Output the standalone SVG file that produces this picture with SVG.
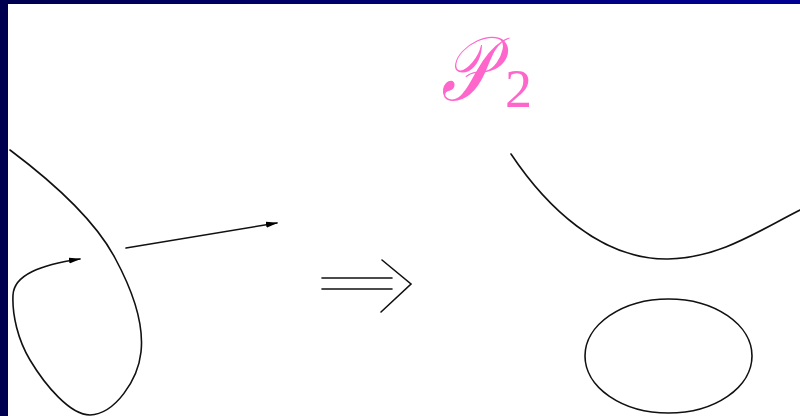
<svg xmlns="http://www.w3.org/2000/svg" width="800" height="416" viewBox="0 0 800 416">
<defs>
<linearGradient id="topg" x1="0" y1="0" x2="1" y2="0">
<stop offset="0" stop-color="#000050"/>
<stop offset="1" stop-color="#000094"/>
</linearGradient>
<marker id="ah" markerWidth="12" markerHeight="8" refX="11" refY="4" orient="auto" markerUnits="userSpaceOnUse">
<path d="M0,1 L12,4 L0,7 Z" fill="#000"/>
</marker>
<style>
.ln{fill:none;stroke:#111;stroke-width:1.6;stroke-linecap:round}
.lbl{fill:#ff66cc}
</style>
</defs>
<rect x="0" y="0" width="800" height="416" fill="#fff"/>
<rect x="0" y="0" width="800" height="4" fill="url(#topg)"/>
<rect x="0" y="0" width="8" height="416" fill="#000050"/>
<g id="connectors">
<path id="loop" class="ln" d="M10,150 C50,180 95,220 115,258 C135,295 144,325 141,352 C138,380 115,414 90,415 C70,415 45,385 30,360 C18,340 12,315 13,295 C14,275 40,265 80,259" marker-end="url(#ah)"/>
<path id="ray" class="ln" d="M126,248 L277,223" marker-end="url(#ah)"/>
</g>
<g id="implies">
<path class="ln" d="M322,278 L392,278 M322,289 L392,289 M382,260 L411,284 L381,312"/>
</g>
<g id="label">
<text class="lbl" transform="translate(441,100) scale(0.78,1)" font-family="DejaVu Serif, serif" font-size="90" font-style="italic">𝒫</text>
<text class="lbl" x="505" y="107" font-family="Liberation Serif, serif" font-size="54">2</text>
</g>
<g id="result">
<path class="ln" d="M511,154 C545,205 600,260 668,259 C720,258 760,230 800,210"/>
<ellipse class="ln" cx="668.5" cy="356" rx="83.5" ry="57"/>
</g>
</svg>
